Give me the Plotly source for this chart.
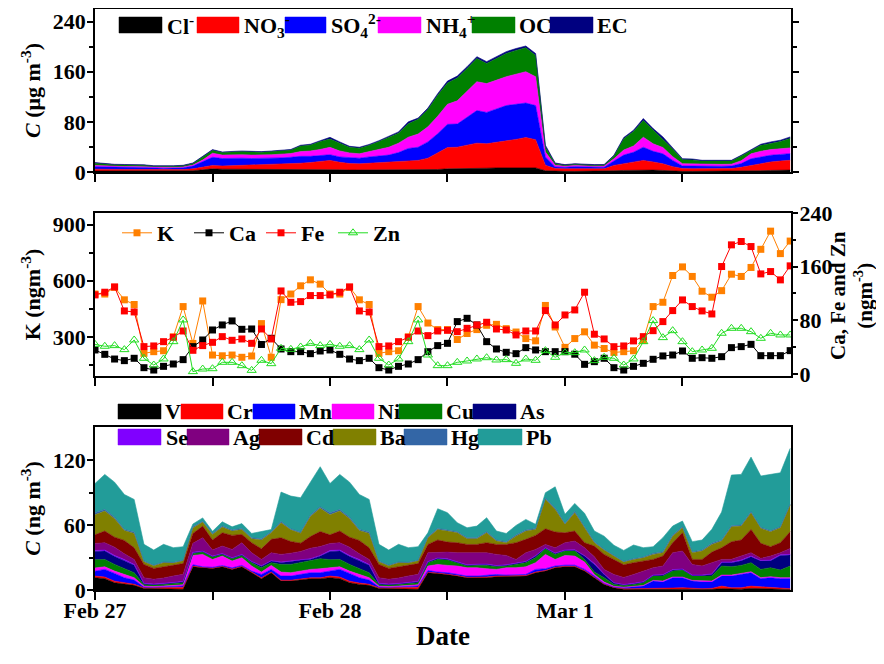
import plotly.graph_objects as go
import pandas as pd

# ---------------- data ----------------
times = pd.date_range("2014-02-27 00:00", periods=72, freq="h")

# top panel: water-soluble ions and carbon (ug m-3)
Cl = [1.5,1.5,1.5,1.5,1.5,1.5,1.2,1.2,1.2,1.5, 2,3.5,5,4.5,4.5,4.5,4,4,4,4,
      4,4,4,4,4,3.5,3,3,3,3, 3,3,3.5,3.5,4,4,5,5,5.5,6, 6,6.5,6.5,7,7,6.5,2,1,1,1,
      1,1,1,2,2.5,3,3,3,2.5,1.5, 1,1,1,1,1,1,1.5,2,2,2.5, 3,3]
NO3 = [3,2.5,2.5,2.5,2.5,2.5,2,2,2,2.3, 3,4.5,5.5,5,5.5,6,6.5,7,7.5,8,
       8.5,10,11,12.5,14.5,12,10.5,10,11,12, 13,14,15,15,18,26,34,34.5,37,40,
       39,40.5,42.5,45,48,45,8.7,4.4,4,4.5, 4.2,4,4,8.5,10.5,12.5,15.5,13,10.5,7,
       4.4,4.3,4.2,4.2,4.2,4.5,6,8.7,11,13.5, 14.5,15.7]
SO4 = [4,4,3.5,3.5,3.5,3.3,3,2.8,3,3, 4.5,8,13,12,12,11.5,11,10.5,10.5,10.5,
       11,11,10,9.5,9,8.5,9.5,9,10,10.5, 11,14,19,21,26,31,37,37,45,52,
       50,54,57,56,55,54.5,13.3,2.6,2.5,3, 2.7,2.5,2.6,7,14,16,21,17,16,10,
       4.2,4.2,4,4,4,4,6,10.3,11,10.7, 10.5,10.6]
NH4 = [2,1.5,1.3,1.2,1.2,1.2,1,1,1,1.2, 1.5,3,6.5,5.5,5.5,5.5,5.5,5.5,5.5,6,
       6,7.5,8.5,10,11.8,9.5,7.5,7,8.5,10.5, 12.5,15,18,21,24,28,32,37,42,46,
       46,46,46,48,50,46,8,2.7,1.8,2, 1.8,1.8,1.9,3.5,8,10,16,12,10,6,
       3.7,3.5,3,3,3,3,4.5,8,9,9, 9,9.1]
OC = [3.5,3,2.7,2.5,2.3,2.2,2,2,2,2, 2.5,5,4.5,4,4.5,5,5,4.5,5,5,
      5.5,9,9.5,12.5,13.3,12.5,9,9,10,12.5, 15.5,16,21.5,23.5,27.5,33.5,34,36.5,35.5,37,
      32,34,37,38,38,34,7.5,2.6,1.5,1.8, 1.6,1.5,1.5,4.7,18,23,26.5,22,13.8,12,
      6.4,6.3,5.3,5.3,5.3,5,7.5,5.7,9.5,9.6, 11.5,15.1]
EC = [1,1,0.8,0.8,0.8,0.8,0.8,0.7,0.8,0.7, 0.9,1,1.2,1,1,1.1,1,1,1,1,
      1,1.2,1.3,1.5,2.7,2,1.5,1.5,1.5,1.5, 2,2,3,2,2.5,2.5,3,3,3,3,
      3,3,3,3,3,3,3.2,1.1,1,1, 1,1,1,1,2,2.2,3.3,2.3,3.2,1.5,
      1.6,1.5,1.2,1.2,1.2,1.2,1.2,1.3,1.8,2.7, 2.2,2.5]

# middle panel (ng m-3)
K = [529,529,565,498,473,212,221,226,300,462, 265,492,203,199,203,191,198,371,191,499,
     529,573,605,582,529,529,565,498,473,212, 221,226,300,462,374,339,339,286,318,339,
     362,367,344,326,291,279,468,353,244,291, 327,256,238,217,221,226,282,462,485,628,
     674,623,544,512,547,635,623,671,768,865, 745,812]
Ca = [35.8,29.3,22.3,19.9,23.4,9.4,5.9,11.4,14.9,21.4, 40.8,50.7,65.6,73.1,79.1,66.6,67.1,44,53.2,37.3,
      33.3,33.3,30.3,34.3,35.8,29.3,22.3,19.9,23.4,9.4, 5.9,11.4,14.9,21.4,33.3,42.3,45.7,78.1,83.0,73.1,
      48.2,37.3,32.3,30.3,39.3,35.8,33.3,33.3,33.3,29.5, 14.4,18.4,23.4,9.4,5.9,11.4,15.9,21.9,26.9,28.3,
      34.3,23.4,24.3,23.4,25.8,39.3,40.8,44.2,27.3,27.3, 27.3,34.8]
Fe = [117.9,121.9,129.8,94.0,92.5,40.8,41.8,48.2,54.7,64.1, 35.3,42.3,47.2,55.7,50.2,52.2,45.7,67.1,52.2,123.8,
      106.9,107.9,116.9,116.9,117.9,121.9,129.8,94.0,92.5,40.8, 41.8,48.2,54.7,64.1,57.2,64.1,65.1,63.1,68.1,73.1,
      77.1,67.1,65.6,58.2,64.1,64.1,94.5,73.1,88,95.5, 121.9,59.3,52.2,40.7,41.8,49.3,55.7,64.6,78.1,94.5,
      110.4,100.5,94,89.5,160.2,192.5,197.5,190,149.2,152.7, 140.3,161.2]
Zn = [44.2,41.3,42.3,36.3,50.7,23.4,13.4,22.4,48.2,80.6, 3.5,7.4,7.9,17.4,17.4,12.4,5.4,20.4,15.4,38.3,
      36.8,40.3,45.7,42.3,44.2,41.3,42.3,36.3,50.7,23.4, 13.4,22.4,48.2,80.6,28.3,12.4,12.4,17.4,19.4,22.4,
      24.3,20.9,21.4,15.9,22.4,20.4,34.8,24.9,31.8,31.8, 35.8,19.9,24.9,23.4,13.4,22.4,48.2,79.6,54.2,64.6,
      48.2,33.3,35.8,38.3,60.7,68.1,68.1,63.1,53.2,60.7, 58.2,58.2]

# bottom panel: trace elements (ng m-3)
V = [11.4,10.5,6.7,5.2,4.3,1.5,1.2,1,0.8,0.6, 21.6,20.6,20,21.6,19.1,21.6,16,10.5,16,8.3,
     8.3,9.2,10.5,10.5, 11.4,10.5,6.7,5.2,4.3,1.5,1.2,1,0.8,0.6,
     16,15.4,14.4,12.9,11.4,11.4,11.4,12.3,12.3,12.9,12.9,16,17.5,20.6,
     21.6,21.6,17.5,11.4,5.2,2.1,0.8,0.6,0.5,0.6,0.6,0.6,0.8,0.6,0.5,0.6,1.2,0.8,0.8,1.5,1.2,1,0.6,0.5]
Cr = [1.5,1.5,1.5,1.2,1,0.6,0.8,1.2,1.6,2, 0.6,0.4,0.4,0.4,0.4,0.4,0.5,0.8,0.6,0.8,
      0.8,0.8,0.8,0.8, 1.5,1.5,1.5,1.2,1,0.6,0.8,1.2,1.6,2,
      0.5,0.4,0.4,0.5,0.5,0.5,0.6,0.6,0.5,0.5,0.5,0.6,0.6,0.5,
      0.4,0.4,0.5,0.5,0.4,0.3,0.3,0.6,0.7,1.2,0.9,1.2,1.3,0.9,0.7,0.9,2.4,1.3,1.3,2.1,1.8,1.1,0.9,0.7]
Mn = [4.5,7.1,7.2,5,3.9,0.6,0.6,0.8,1,1.2, 1.2,0.5,0.6,0.6,1,0.8,1,3.1,2.5,3.8,
      3.8,4.4,4.7,4.7, 4.5,7.1,7.2,5,3.9,0.6,0.6,0.8,1,1.2,
      1.5,0.8,1.2,1,1,1,1.5,1.5,1,1,1,2.5,1.6,1.1,
      1,1,1.1,1,0.5,0.4,1,1.7,2.4,6.5,5.8,9.6,9.3,6.8,6.1,5.8,9.3,10.8,12.3,12.4,7.5,9.3,9,9.3]
Ni = [3,2.4,2.1,3,2.2,0.9,0.6,0.6,0.8,1, 8.6,11.5,7.3,8.8,6.3,7.1,4.7,2.2,3.7,3.7,
      3.1,3.1,3.1,3.7, 3,2.4,2.1,3,2.2,0.9,0.6,0.6,0.8,1,
      4.2,7.1,6.8,7.8,7.7,7.7,6.2,4.7,6.8,6.2,7.1,6.2,13.3,6.1,
      9,8.4,6.8,1.5,1.2,0.6,0.5,0.6,0.6,0.6,1,0.6,0.6,0.6,1,1,0.9,0.9,1,0.9,0.9,0.9,0.9,0.9]
Cu = [7.7,6.8,6.2,5.3,4.6,1.3,1.5,1.6,1.8,2, 1.9,2.1,2.2,1.6,2.2,2.1,3.1,4,2.5,7.1,
      7.7,7.8,7.7,9.3, 7.7,6.8,6.2,5.3,4.6,1.3,1.5,1.6,1.8,2,
      3.1,4.6,4.9,3.1,1.6,2.2,3.1,2.4,1.6,3.1,3.8,4.6,5.2,4.7,
      4.1,4.7,2.4,2.2,4.1,1.8,1.6,1.7,2.5,4,4.6,5.5,6.5,4,4.6,4.6,8.4,7.7,7.4,8.4,7.7,8.3,7.1,10.8]
As = [7.5,7.8,7.3,7.6,7,0.9,0.4,0.5,0.6,0.8, 0.6,0.6,0.5,0.5,0.5,0.6,0.8,1.5,1.5,1.8,
      2.7,2.6,1.8,2.6, 7.5,7.8,7.3,7.6,7,0.9,0.4,0.5,0.6,0.8,
      0.6,1,0.8,0.8,0.8,0.7,0.8,0.8,0.8,0.8,0.8,1.5,0.6,0.8,
      0.6,0.8,3.1,7.1,3,1.2,0.5,0.6,0.6,0.6,0.9,1,0.6,0.6,0.6,1.5,3.1,3.8,4.3,5.5,7.7,6.5,13.5,10.2]
Se = [1,0.9,1,1,0.7,0.4,0.4,0.4,0.4,0.4, 0.4,0.4,0.4,0.4,0.4,0.4,0.4,0.4,0.4,0.4,
      0.4,0.4,0.4,0.4, 1,0.9,1,1,0.7,0.4,0.4,0.4,0.4,0.4,
      0.4,0.4,0.4,0.4,0.4,0.4,0.4,0.4,0.4,0.4,0.4,0.4,0.4,0.4,
      0.4,0.4,0.4,0.8,0.4,0.4,0.4,0.4,0.4,0.4,0.4,0.4,0.4,0.4,0.4,0.5,0.6,0.6,0.6,0.6,0.6,0.6,0.6,0.6]
Ag = [6.5,6.8,7.7,5.2,4.6,5.2,4.5,5,6,6.5, 8.3,12.3,5.6,6.8,7.7,10.8,8,5.8,7.3,7.1,
      7.3,7.4,9.7,8.3, 6.5,6.8,7.7,5.2,4.6,5.2,4.5,5,6,6.5,
      8.2,5,6.2,8,11.1,10,10.5,10.3,8.6,3.4,8,5.8,3,4.9,
      6.7,8,7.3,6.3,4.3,7.6,6.5,8.2,9.8,6.7,8,15.6,16.6,9.8,8.3,10.4,2.4,2.5,3.7,3.1,1.9,3.7,1.9,5.5]
Cd = [8,10.8,9.2,12.4,10.8,12.3,10,10.5,9.5,10, 9.2,10.8,9.3,12.3,13,7.7,9.3,9.9,12.4,15.4,
      10.8,7.7,10.8,13.9, 8,10.8,9.2,12.4,10.8,12.3,10,10.5,9.5,10,
      7.7,11.6,9.3,9.3,7.7,8.3,9.3,9.2,10.2,15.5,12.4,13,14.5,14.6,
      9.2,9.3,4.7,9.9,13.9,13.9,11.8,10.9,9.3,7.7,9.2,9.3,16.9,4.6,6.1,9.8,10.8,16.3,14.9,21.6,13.9,8.7,9.3,15.5]
Ba = [18.5,18.5,17.1,9.2,13.3,2.5,2.5,3.7,2.5,2.5, 5,3.7,5.2,5.3,4,4.6,3.7,8.1,6.1,13.9,
      10.8,9.2,18.6,21.6, 18.5,18.5,17.1,9.2,13.3,2.5,2.5,3.7,2.5,2.5,
      6.2,9.8,10.2,9.2,5.3,5.3,9.2,3.1,1.6,6.1,7.7,5.5,27.2,20.9,
      7.8,17,13.9,3.1,4,3.2,2.5,3,3.1,4.7,3.1,6.1,4.7,6.2,7.8,7.1,6.2,13.9,12.9,15.5,13.9,13.9,13.9,24.7]
Hg = [2,1.5,1.5,0.9,1.3,0.6,0.5,0.6,0.6,0.6, 1.2,0.9,0.9,0.9,0.9,0.9,0.9,1.2,1,1.2,
      0.9,1,1.2,1.2, 2,1.5,1.5,0.9,1.3,0.6,0.5,0.6,0.6,0.6,
      0.9,0.9,0.9,1,0.9,0.9,1,1,0.9,1,0.9,0.9,1.2,1.3,
      0.9,1.2,0.9,0.9,0.6,0.5,0.5,0.6,0.6,0.9,0.9,1,0.9,0.9,0.9,1,1,0.9,0.9,0.9,0.9,0.9,0.9,0.9]
Pb = [27,32.5,32.4,32.5,30.2,15.5,14,16.4,13.6,12.5, 2.5,3,2,4,3,4.5,4,7,2,27.2,
      30.4,31.9,30.7,37.2, 27,32.5,32.4,32.5,30.2,15.5,14,16.4,13.6,12.5,
      3.7,18.3,16.1,8.3,9.3,10.8,13,8.3,7.7,8.9,9.9,3.8,5,19.7,
      8.4,7.4,12.4,9.9,12.3,9.4,10.3,12.8,8.7,6.2,13.1,8.4,5.3,9.4,9.3,13,25.9,47,47,50.6,47.6,52.5,50,51.6]

ion_series = [("Cl<sup>-</sup>", Cl, "#000000"),
              ("NO<sub>3</sub><sup>-</sup>", NO3, "#FF0000"),
              ("SO<sub>4</sub><sup>2-</sup>", SO4, "#0000FF"),
              ("NH<sub>4</sub><sup>+</sup>", NH4, "#FF00FF"),
              ("OC", OC, "#008000"),
              ("EC", EC, "#000080")]
metal_series = [("V", V, "#000000"), ("Cr", Cr, "#FF0000"), ("Mn", Mn, "#0000FF"),
                ("Ni", Ni, "#FF00FF"), ("Cu", Cu, "#008000"), ("As", As, "#000080"),
                ("Se", Se, "#8000FF"), ("Ag", Ag, "#800080"), ("Cd", Cd, "#800000"),
                ("Ba", Ba, "#808000"), ("Hg", Hg, "#3366A6"), ("Pb", Pb, "#229C99")]

day_ticks = ["2014-02-27 00:00", "2014-02-28 00:00", "2014-03-01 00:00"]
day_labels = ["Feb 27", "Feb 28", "Mar 1"]
noon_ticks = ["2014-02-27 12:00", "2014-02-28 12:00", "2014-03-01 12:00"]

# ---------------- figure ----------------
FONT = "Liberation Serif, Times New Roman, serif"
OFF = 8                      # page body margin of the browser
W, H = 884 - OFF, 664 - OFF
ML, MR, MT, MB = 95 - OFF, 93, 9 - OFF, 74
PW, PH = W - ML - MR, H - MT - MB


def fx(p):
    """window pixel x -> paper fraction"""
    return (p - OFF - ML) / PW


def fy(p):
    """window pixel y -> paper fraction"""
    return (H - MB - (p - OFF)) / PH


fig = go.Figure()

for name, vals, col in ion_series:
    fig.add_trace(go.Scatter(x=times, y=vals, name=name, stackgroup="ions",
                             mode="lines", line=dict(color=col, width=0.6),
                             fillcolor=col, showlegend=False,
                             xaxis="x", yaxis="y"))

fig.add_trace(go.Scatter(x=times, y=K, name="K", mode="lines+markers",
                         line=dict(color="#FF8000", width=1),
                         marker=dict(symbol="square", size=7, color="#FF8000"),
                         xaxis="x2", yaxis="y2"))
fig.add_trace(go.Scatter(x=times, y=Ca, name="Ca", mode="lines+markers",
                         line=dict(color="#000000", width=1),
                         marker=dict(symbol="square", size=7, color="#000000"),
                         xaxis="x2", yaxis="y4"))
fig.add_trace(go.Scatter(x=times, y=Fe, name="Fe", mode="lines+markers",
                         line=dict(color="#FF0000", width=1),
                         marker=dict(symbol="square", size=7, color="#FF0000"),
                         xaxis="x2", yaxis="y4"))
fig.add_trace(go.Scatter(x=times, y=Zn, name="Zn", mode="lines+markers",
                         line=dict(color="#22DD22", width=1),
                         marker=dict(symbol="triangle-up-open", size=8, color="#22DD22",
                                     line=dict(width=1)),
                         xaxis="x2", yaxis="y4"))

for name, vals, col in metal_series:
    fig.add_trace(go.Scatter(x=times, y=vals, name=name, stackgroup="metals",
                             mode="lines", line=dict(color=col, width=0.6),
                             fillcolor=col, showlegend=False,
                             xaxis="x3", yaxis="y3"))

# ---------------- legends for stacked areas (swatches + labels) ----------------
shapes, annots = [], []
lfont = dict(family=FONT, size=22, color="black", weight="bold")


def legend_row(items, y0, y1):
    for (label, col, x0, x1, tx) in items:
        shapes.append(dict(type="rect", xref="paper", yref="paper",
                           x0=fx(x0), x1=fx(x1), y0=fy(y1), y1=fy(y0),
                           fillcolor=col, line=dict(width=0.5, color=col)))
        annots.append(dict(text=label, x=fx(tx), y=fy((y0 + y1) / 2),
                           xref="paper", yref="paper", xanchor="left",
                           yanchor="middle", showarrow=False, font=lfont))


ion_pos = [(119, 162, 165), (197, 239, 242), (285, 326, 329),
           (378, 421, 424), (472, 515, 517), (550, 593, 595)]
legend_row([(s[0], s[2]) + p for s, p in zip(ion_series, ion_pos)], 17, 33)

row1_pos = [(118, 161, 163), (181, 223, 225), (253, 295, 297),
            (332, 374, 376), (399, 442, 444), (473, 516, 518)]
row2_pos = [(118, 161, 164), (187, 229, 231), (259, 302, 304),
            (333, 376, 378), (404, 447, 449), (478, 522, 524)]
legend_row([(s[0], s[2]) + p for s, p in zip(metal_series[:6], row1_pos)], 404, 419)
legend_row([(s[0], s[2]) + p for s, p in zip(metal_series[6:], row2_pos)], 429, 445)

# right-hand axis title of the middle panel
annots.append(dict(text="Ca, Fe and Zn<br>(ngm<sup>-3</sup>)", x=fx(851), y=fy(296),
                   xref="paper", yref="paper", xanchor="center", yanchor="middle",
                   textangle=-90, showarrow=False,
                   font=dict(family=FONT, size=21, color="black", weight="bold")))

# ---------------- axes ----------------
axis_common = dict(showline=True, linecolor="black", linewidth=1.5,
                   ticks="outside", tickwidth=1.5, tickcolor="black",
                   showgrid=False, zeroline=False, automargin=False)
xr = ["2014-02-27 00:00", "2014-03-01 23:05"]
xcommon = dict(axis_common, type="date", range=xr, tickmode="array",
               tickvals=day_ticks, ticktext=day_labels, ticklen=8, mirror=True,
               minor=dict(tickmode="array", tickvals=noon_ticks, ticks="outside",
                          ticklen=8, tickwidth=1.5, tickcolor="black"))
ycommon = dict(axis_common, ticklen=6, ticklabelstandoff=-3)
yminor = dict(ticks="outside", ticklen=4, tickwidth=1.5, tickcolor="black",
              tickmode="array")
ytitle_font = dict(family=FONT, size=22, weight="bold")

top_dom = [fy(172), fy(9)]
mid_dom = [fy(376), fy(213)]
bot_dom = [fy(590), fy(427)]

fig.update_layout(
    width=W, height=H,
    margin=dict(l=ML, r=MR, t=MT, b=MB, autoexpand=False),
    paper_bgcolor="white", plot_bgcolor="white",
    font=dict(family=FONT, size=22, color="black", weight="bold"),
    showlegend=True,
    legend=dict(orientation="h", x=fx(117), y=fy(233), xanchor="left",
                yanchor="middle", bgcolor="rgba(0,0,0,0)", traceorder="normal",
                font=dict(family=FONT, size=22, color="black", weight="bold"),
                entrywidth=27, entrywidthmode="pixels", itemwidth=30,
                tracegroupgap=0),
    xaxis=dict(xcommon, anchor="y", showticklabels=False),
    xaxis2=dict(xcommon, anchor="y2", showticklabels=False, matches="x"),
    xaxis3=dict(xcommon, anchor="y3", showticklabels=True, matches="x",
                ticklabelstandoff=-8,
                tickfont=dict(family=FONT, size=22, weight="bold"),
                title=dict(text="Date", font=dict(family=FONT, size=27, weight="bold"),
                           standoff=4)),
    yaxis=dict(ycommon, domain=top_dom, anchor="x", range=[0, 260],
               tickmode="array", tickvals=[0, 80, 160, 240], mirror="ticks",
               minor=dict(yminor, tickvals=[40, 120, 200]),
               title=dict(text="<i>C</i> (μg m<sup>-3</sup>)", font=ytitle_font,
                          standoff=6)),
    yaxis2=dict(ycommon, domain=mid_dom, anchor="x2", range=[91, 962],
                tickmode="array", tickvals=[300, 600, 900], mirror=True,
                minor=dict(yminor, tickvals=[150, 450, 750]),
                title=dict(text="K (ngm<sup>-3</sup>)", font=ytitle_font,
                           standoff=6)),
    yaxis4=dict(ycommon, overlaying="y2", side="right", anchor="x2",
                range=[-3, 240], tickmode="array", tickvals=[0, 80, 160, 240],
                showline=False,
                minor=dict(yminor, tickvals=[40, 120, 200])),
    yaxis3=dict(ycommon, domain=bot_dom, anchor="x3", range=[0, 151],
                tickmode="array", tickvals=[0, 60, 120], mirror=True,
                minor=dict(yminor, tickvals=[30, 90]),
                title=dict(text="<i>C</i> (ng m<sup>-3</sup>)", font=ytitle_font,
                           standoff=6)),
    shapes=shapes,
    annotations=annots,
)

fig.write_html("out.html")
